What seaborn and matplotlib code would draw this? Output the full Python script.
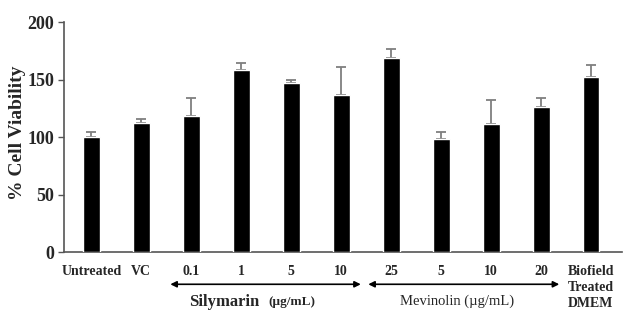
import matplotlib
matplotlib.use("Agg")
import matplotlib.pyplot as plt
import seaborn as sns
import pandas as pd

# Cell viability per treatment group (mean and SD)
groups = ["Untreated", "VC", "Sil 0.1", "Sil 1", "Sil 5", "Sil 10",
          "Sil 25", "Mev 5", "Mev 10", "Mev 20", "Biofield"]
tick_labels = ["Untreated", "VC", "0.1", "1", "5", "10", "25", "5", "10", "20",
               "Biofield\nTreated\nDMEM"]
viability = [100, 112.5, 118.5, 158, 147, 136.5, 168.5, 98, 111.5, 126.5, 152.5]
sd = [4, 3.5, 15.5, 6, 3, 24, 8, 6.5, 20.5, 7.5, 10]

df = pd.DataFrame({"group": groups, "viability": viability})

sns.set_style("white")
plt.rcParams["font.family"] = ["Liberation Serif", "DejaVu Serif"]

fig = plt.figure(figsize=(6.26, 3.24), dpi=100)
ax = fig.add_axes([0.102, 0.222, 0.892, 0.710])

# error bars sit beneath the bars so only the upper whisker shows
ax.errorbar(range(len(groups)), viability, yerr=[[0] * len(sd), sd],
            fmt="none", ecolor="#7f7f7f", elinewidth=1.3, capsize=3.5,
            capthick=1.3, zorder=1)
sns.barplot(data=df, x="group", y="viability", color="black", width=0.33,
            errorbar=None, ax=ax, saturation=1, zorder=3)

ax.set_ylim(0, 200)
ax.set_xlim(-0.55, 10.62)
ax.set_yticks([0, 50, 100, 150, 200])
ax.tick_params(axis="y", labelsize=13, length=4, width=1, color="#555555",
               direction="out", left=True, pad=3)
for t in ax.get_yticklabels():
    t.set_fontweight("bold")
ax.set_xticks(range(len(groups)))
ax.set_xticklabels(tick_labels, fontsize=10, fontweight="bold",
                   multialignment="left", linespacing=1.3, va="top")
ax.tick_params(axis="x", length=0, pad=9)
ax.set_xlabel("")
ax.set_ylabel("% Cell Viability", fontsize=14, fontweight="bold")
ax.yaxis.set_label_coords(-0.068, 0.52)

for side in ["top", "right"]:
    ax.spines[side].set_visible(False)
for side in ["left", "bottom"]:
    ax.spines[side].set_color("#555555")
    ax.spines[side].set_linewidth(1.2)

# Concentration range arrows below the tick labels
arrow_style = dict(arrowstyle="<|-|>", color="black", lw=1.2,
                   mutation_scale=9, shrinkA=0, shrinkB=0)
xy_coords = ("data", "axes fraction")
ax.annotate("", xy=(1.58, -0.14), xytext=(5.39, -0.14), xycoords=xy_coords,
            textcoords=xy_coords, arrowprops=arrow_style)
ax.annotate("", xy=(5.54, -0.14), xytext=(9.36, -0.14), xycoords=xy_coords,
            textcoords=xy_coords, arrowprops=arrow_style)

ax.text(3.35, -0.215, "Silymarin", transform=ax.get_xaxis_transform(),
        fontsize=12, fontweight="bold", ha="right", va="center")
ax.text(3.54, -0.215, "(\u00b5g/mL)", transform=ax.get_xaxis_transform(),
        fontsize=9.5, fontweight="bold", ha="left", va="center")
ax.text(7.32, -0.215, "Mevinolin (\u00b5g/mL)", transform=ax.get_xaxis_transform(),
        fontsize=10.5, ha="center", va="center")

fig.savefig("out.png", dpi=100)
